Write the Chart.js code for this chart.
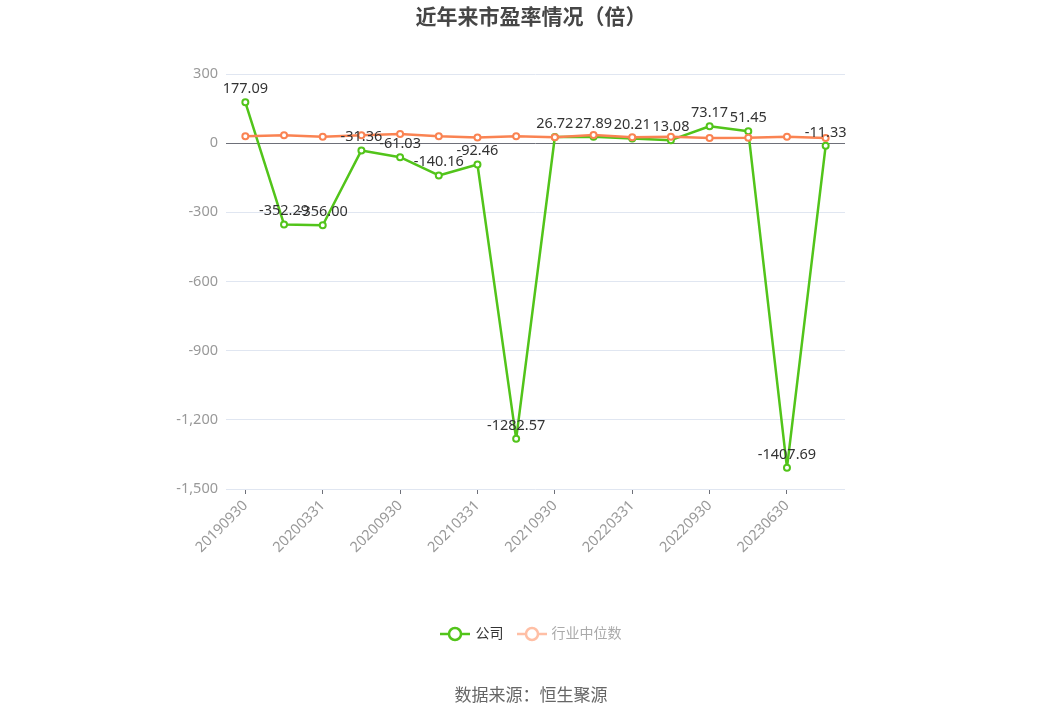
<!DOCTYPE html>
<html>
<head>
<meta charset="utf-8">
<script src="https://cdn.jsdelivr.net/npm/chart.js@4/dist/chart.umd.min.js"></script>
<style>
  html, body { margin: 0; padding: 0; background: #fff; }
  body { width: 1062px; height: 718px; position: relative; overflow: hidden;
         font-family: "Noto Sans CJK SC", "Noto Sans", sans-serif; }
  #wrap { position: absolute; left: 0; top: 0; width: 1062px; height: 718px; }
  .title { position: absolute; top: 0px; width: 100%; text-align: center;
           font-size: 21px; font-weight: bold; color: #464646; }
  .legend { position: absolute; top: 620px; width: 100%; text-align: center; font-size: 14px; }
  .legend span.item { display: inline-block; margin: 0 5px; vertical-align: middle; }
  .legend svg { vertical-align: middle; margin-right: 5px; }
  .source { position: absolute; top: 681px; width: 100%; text-align: center;
            font-size: 17px; color: #666; }
</style>
</head>
<body>
<div id="wrap"><canvas id="grafica"></canvas></div>
<div class="title">近年来市盈率情况（倍）</div>
<div class="legend">
  <span class="item" style="color:#333"><svg width="30" height="18"><line x1="0" y1="9" x2="30" y2="9" stroke="#52c41a" stroke-width="2.5"/><circle cx="15" cy="9" r="6" fill="#fff" stroke="#52c41a" stroke-width="2.5"/></svg>公司</span>
  <span class="item" style="color:#aaa"><svg width="30" height="18"><line x1="0" y1="9" x2="30" y2="9" stroke="#ffbfa5" stroke-width="2.5"/><circle cx="15" cy="9" r="6" fill="#fff" stroke="#ffbfa5" stroke-width="2.5"/></svg>行业中位数</span>
</div>
<div class="source">数据来源：恒生聚源</div>

<script>
// ── datos ───────────────────────────────────────────
const fechas = ['20190930', '20191231', '20200331', '20200630', '20200930', '20201231',
                '20210331', '20210630', '20210930', '20211231', '20220331', '20220630',
                '20220930', '20221231', '20230630', '20230930'];
const peEmpresa = [177.09, -352.29, -356.00, -31.36, -61.03, -140.16, -92.46, -1282.57,
                   26.72, 27.89, 20.21, 13.08, 73.17, 51.45, -1407.69, -11.33];
const peIndustria = [30, 34, 28, 34, 40, 30, 25, 30, 26, 35, 26, 28, 22, 24, 28, 22];
const ticksY = [300, 0, -300, -600, -900, -1200, -1500];

// etiquetas encima de los puntos de la empresa
const etiquetas = {
    id: 'etiquetas',
    afterDatasetsDraw(chart) {
        const meta = chart.getDatasetMeta(0);
        const ctx = chart.ctx;
        ctx.save();
        ctx.font = '14.5px "Noto Sans", sans-serif';
        ctx.fillStyle = '#333';
        ctx.textAlign = 'center';
        ctx.textBaseline = 'bottom';
        meta.data.forEach((p, i) => {
            ctx.fillText(peEmpresa[i].toFixed(2), p.x, p.y - 6);
        });
        ctx.restore();
    }
};

new Chart(document.getElementById('grafica'), {
    type: 'line',
    data: {
        labels: fechas,
        datasets: [
            {
                label: '公司',
                data: peEmpresa,
                borderColor: '#52c41a',
                backgroundColor: '#fff',
                borderWidth: 2.5,
                borderJoinStyle: 'bevel',
                pointRadius: 3,
                pointBorderWidth: 2,
                tension: 0,
                order: 2
            },
            {
                label: '行业中位数',
                data: peIndustria,
                borderColor: '#fa8352',
                backgroundColor: '#fff',
                borderWidth: 2.5,
                borderJoinStyle: 'bevel',
                pointRadius: 3,
                pointBorderWidth: 2,
                tension: 0,
                order: 1
            }
        ]
    },
    options: {
        responsive: true,
        maintainAspectRatio: false,
        animation: false,
        layout: { padding: { top: 74, right: 217, left: 0, bottom: 0 } },
        plugins: {
            legend: { display: false },
            tooltip: { enabled: false }
        },
        scales: {
            x: {
                offset: true,
                afterFit: s => { s.height = 229; },
                border: { display: false },
                grid: {
                    drawOnChartArea: false,
                    tickLength: 5,
                    tickColor: c => (c.index % 2 ? 'rgba(0,0,0,0)' : '#6e7079')
                },
                ticks: {
                    autoSkip: false,
                    maxRotation: 45,
                    minRotation: 45,
                    color: '#999',
                    font: { size: 14.5, family: '"Noto Sans", sans-serif' },
                    callback: function(v, i) { return i % 2 ? '' : fechas[i]; }
                }
            },
            y: {
                min: -1500,
                max: 300,
                afterFit: s => { s.width = 226; },
                afterBuildTicks: s => { s.ticks = ticksY.map(v => ({ value: v })); },
                border: { display: false },
                grid: {
                    color: c => (c.tick && c.tick.value === 0 ? '#6e7079' : '#e0e6f1'),
                    drawTicks: false
                },
                ticks: {
                    padding: 8,
                    color: '#999',
                    font: { size: 14.5, family: '"Noto Sans", sans-serif' },
                    callback: v => v.toLocaleString('en-US')
                }
            }
        }
    },
    plugins: [etiquetas]
});
</script>
</body>
</html>
